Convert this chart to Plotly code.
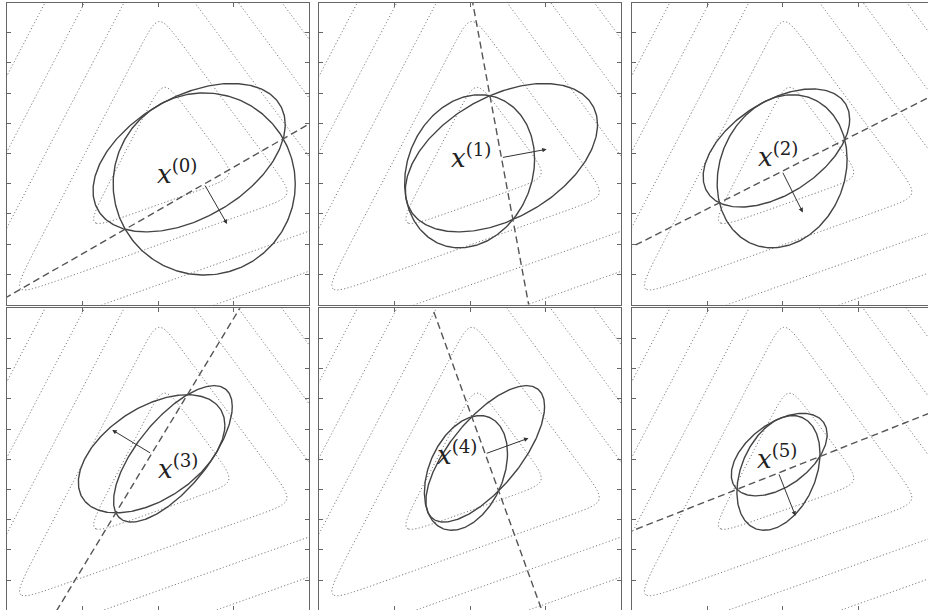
import numpy as np
import plotly.graph_objects as go

# ---- data -------------------------------------------------------------
# initial ellipsoid E(0): a ball
x_start = [0.306, -0.202]
r_start = 0.603
# direction of the cutting-plane normal (subgradient) at each iterate, degrees
cut_angles = [-60.2, 10.5, -63.3, 148.8, 19.9, -68.4]
# iterate superscripts and label offsets (px) from each iterate
iter_tags = ["(0)", "(1)", "(2)", "(3)", "(4)", "(5)"]
label_dx = [-27, -30, -4, 26, -28, -1]
label_dy = [12, 2, 16, -13, 1, 16]

# objective: smoothed max of three affine pieces
piece_normal_deg = [152.5, 36.6, -70.4]
piece_offset = [-0.035, 0.095, 0.07]
piece_step = [0.232, 0.232, 0.25]
smooth_t = 0.2
contour_levels = [1, 2, 3, 4, 5, 6, 7, 8]

# ---- ellipsoid method ---------------------------------------------------
n = 2
centers = [np.array(x_start, float)]
shapes = [np.eye(2) * r_start ** 2]
for ang in cut_angles:
    g = np.array([np.cos(np.radians(ang)), np.sin(np.radians(ang))])
    x, P = centers[-1], shapes[-1]
    gt = g / np.sqrt(g @ P @ g)
    Pg = P @ gt
    centers.append(x - Pg / (n + 1))
    shapes.append(n ** 2 / (n ** 2 - 1) * (P - 2 / (n + 1) * np.outer(Pg, Pg)))


def ellipse_xy(c, P, m=300):
    L = np.linalg.cholesky(P)
    t = np.linspace(0, 2 * np.pi, m)
    pts = c[:, None] + L @ np.vstack([np.cos(t), np.sin(t)])
    return pts[0], pts[1]


# contour grid
gx = np.linspace(-1.05, 1.05, 240)
gy = np.linspace(-1.05, 1.05, 240)
GX, GY = np.meshgrid(gx, gy)
terms = []
for a, d, w in zip(piece_normal_deg, piece_offset, piece_step):
    nx, ny = np.cos(np.radians(a)), np.sin(np.radians(a))
    terms.append((nx * GX + ny * GY - d) / w)
terms = np.array(terms)
mx = terms.max(axis=0)
F = mx + smooth_t * np.log(np.exp((terms - mx) / smooth_t).sum(axis=0))
F = np.round(F, 4)

# ---- layout of panels (pixel geometry of a 928x610 page) -------------------
W, H = 928, 610
unit = 151.0
col_left = [7.0, 319.3, 631.8]
row_top = [2.5, 308.3]

fig = go.Figure()
ELL = "#444444"
DASH = "#555555"
DOT = "#767676"

for k in range(6):
    r, c = divmod(k, 3)
    idx = k + 1
    xa = "x" if idx == 1 else f"x{idx}"
    ya = "y" if idx == 1 else f"y{idx}"
    left = col_left[c]
    right = min(left + 2 * unit, W)
    top = row_top[r]
    bottom = min(top + 2 * unit, H)
    xr = [-1, -1 + (right - left) / unit]
    yr = [1 - (bottom - top) / unit, 1]

    fig.add_trace(go.Contour(
        x=gx, y=gy, z=F, xaxis=xa, yaxis=ya,
        contours=dict(start=contour_levels[0], end=contour_levels[-1], size=1,
                      coloring="none"),
        line=dict(color=DOT, width=1, dash="1.2px,2.2px", smoothing=1),
        showscale=False, hoverinfo="skip"))

    # current and next ellipsoid
    for e in (k, k + 1):
        ex, ey = ellipse_xy(centers[e], shapes[e])
        fig.add_trace(go.Scatter(x=ex, y=ey, mode="lines", xaxis=xa, yaxis=ya,
                                 line=dict(color=ELL, width=1.4),
                                 hoverinfo="skip", showlegend=False))

    # cutting plane through the iterate
    xc = centers[k]
    ang = np.radians(cut_angles[k])
    g = np.array([np.cos(ang), np.sin(ang)])
    tdir = np.array([-g[1], g[0]])
    seg = np.vstack([xc - 4 * tdir, xc + 4 * tdir])
    fig.add_trace(go.Scatter(x=seg[:, 0], y=seg[:, 1], mode="lines", xaxis=xa, yaxis=ya,
                             line=dict(color=DASH, width=1.4, dash="7px,4px"),
                             hoverinfo="skip", showlegend=False))

    # subgradient arrow
    tip = xc + 0.305 * g
    fig.add_annotation(x=tip[0], y=tip[1], ax=xc[0], ay=xc[1], xref=xa, yref=ya,
                       axref=xa, ayref=ya, text="", showarrow=True,
                       arrowhead=2, arrowsize=0.9, arrowwidth=1, arrowcolor="#333")
    # iterate label
    fig.add_annotation(x=xc[0], y=xc[1], xref=xa, yref=ya, showarrow=False,
                       text=f"<i>x</i><sup>{iter_tags[k]}</sup>",
                       xshift=label_dx[k], yshift=label_dy[k],
                       font=dict(family="DejaVu Serif", size=26, color="#222"))

    axis_common = dict(showgrid=False, zeroline=False, showticklabels=False,
                       ticks="inside", ticklen=4, tickcolor="#666",
                       showline=True, linecolor="#666", linewidth=1)
    fig.layout[("xaxis" if idx == 1 else f"xaxis{idx}")] = dict(
        axis_common, domain=[left / W, right / W], range=xr, anchor=ya,
        tickvals=[-0.5, 0, 0.5], mirror="ticks")
    fig.layout[("yaxis" if idx == 1 else f"yaxis{idx}")] = dict(
        axis_common, domain=[1 - bottom / H, 1 - top / H], range=yr, anchor=xa,
        tickvals=[-0.8, -0.6, -0.4, -0.2, 0, 0.2, 0.4, 0.6, 0.8],
        mirror="ticks" if c < 2 else False)

fig.update_layout(width=W, height=H, margin=dict(l=0, r=0, t=0, b=0),
                  paper_bgcolor="white", plot_bgcolor="white", showlegend=False)
fig.write_html("out.html")
